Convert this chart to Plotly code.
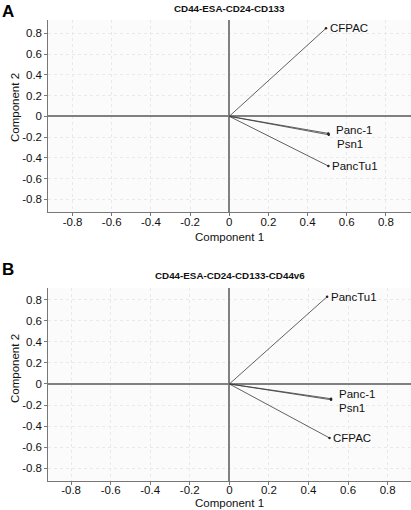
import plotly.graph_objects as go

# Panel A data
labels_a = ["CFPAC", "Panc-1", "Psn1", "PancTu1"]
comp1_a = [0.494, 0.506, 0.508, 0.506]
comp2_a = [0.848, -0.165, -0.178, -0.479]

# Panel B data
labels_b = ["PancTu1", "Panc-1", "Psn1", "CFPAC"]
comp1_b = [0.494, 0.514, 0.514, 0.506]
comp2_b = [0.828, -0.140, -0.150, -0.512]

tick_vals = [-0.8, -0.6, -0.4, -0.2, 0, 0.2, 0.4, 0.6, 0.8]
tick_text = ["-0.8", "-0.6", "-0.4", "-0.2", "0", "0.2", "0.4", "0.6", "0.8"]

titles = ["CD44-ESA-CD24-CD133", "CD44-ESA-CD24-CD133-CD44v6"]
x_title = "Component 1"
y_title = "Component 2"

W, H = 411, 510
fig = go.Figure()

def add_vectors(xs, ys, xa, ya):
    for x, y in zip(xs, ys):
        fig.add_trace(go.Scatter(
            x=[0, x], y=[0, y], mode="lines",
            line=dict(color="#3a3a3a", width=0.8),
            xaxis=xa, yaxis=ya, showlegend=False, hoverinfo="skip"))
    fig.add_trace(go.Scatter(
        x=xs, y=ys, mode="markers",
        marker=dict(color="#222222", size=2.5),
        xaxis=xa, yaxis=ya, showlegend=False))

add_vectors(comp1_a, comp2_a, "x", "y")
add_vectors(comp1_b, comp2_b, "x2", "y2")

font_fam = "Liberation Sans, Arial, sans-serif"

axis_common = dict(
    tickmode="array", tickvals=tick_vals, ticktext=tick_text,
    showgrid=True, gridcolor="#e9e9e9", griddash="dot", gridwidth=1,
    zeroline=True, zerolinecolor="#808080", zerolinewidth=1.5,
    showline=True, linecolor="#777777", linewidth=1,
    ticks="outside", ticklen=3, tickcolor="#777777",
    tickfont=dict(family=font_fam, size=11.5, color="#111"),
    mirror=False, automargin=False,
)

def px_x(p):
    return p / W

def px_y(p):
    return 1 - p / H

fig.update_layout(
    width=W, height=H,
    margin=dict(l=0, r=0, t=0, b=0),
    paper_bgcolor="white", plot_bgcolor="#fbfbfb",
    font=dict(family=font_fam, color="#111"),
    xaxis=dict(domain=[px_x(48.3), 1.0], range=[-0.924, 0.928], anchor="y",
               ticklabelstandoff=-4, **axis_common),
    yaxis=dict(domain=[px_y(212.3), px_y(20)], range=[-0.925, 0.928], anchor="x", **axis_common),
    xaxis2=dict(domain=[px_x(48.3), 1.0], range=[-0.915, 0.918], anchor="y2",
                ticklabelstandoff=-4, **axis_common),
    yaxis2=dict(domain=[px_y(480.5), px_y(288.3)], range=[-0.916, 0.908], anchor="x2", **axis_common),
)

annotations = []
lab_font = dict(size=11.5, family=font_fam, color="#111")
# point labels
shifts_a = {"CFPAC": (2, 0), "Panc-1": (6, 3), "Psn1": (6, -9), "PancTu1": (2, 0)}
for lab, x, y in zip(labels_a, comp1_a, comp2_a):
    dx, dy = shifts_a[lab]
    annotations.append(dict(x=x, y=y, xref="x", yref="y", text=lab, showarrow=False,
                            xanchor="left", yanchor="middle", xshift=dx, yshift=dy,
                            font=lab_font))
shifts_b = {"PancTu1": (2, 0), "Panc-1": (6, 5), "Psn1": (6, -8), "CFPAC": (2, 0)}
for lab, x, y in zip(labels_b, comp1_b, comp2_b):
    dx, dy = shifts_b[lab]
    annotations.append(dict(x=x, y=y, xref="x2", yref="y2", text=lab, showarrow=False,
                            xanchor="left", yanchor="middle", xshift=dx, yshift=dy,
                            font=lab_font))

# panel titles
title_font = dict(size=9.8, family=font_fam, color="#111")
annotations.append(dict(x=px_x(229.6), y=px_y(8.5), xref="paper", yref="paper",
                        text="<b>" + titles[0] + "</b>", showarrow=False,
                        xanchor="center", yanchor="middle", font=title_font))
annotations.append(dict(x=px_x(229.6), y=px_y(275), xref="paper", yref="paper",
                        text="<b>" + titles[1] + "</b>", showarrow=False,
                        xanchor="center", yanchor="middle", font=title_font))
# axis titles
ax_font = dict(size=11.5, family=font_fam, color="#111")
for yc in (237, 503):
    annotations.append(dict(x=px_x(229.3), y=px_y(yc), xref="paper", yref="paper",
                            text=x_title, showarrow=False, xanchor="center",
                            yanchor="middle", font=ax_font))
for yc in (108, 369):
    annotations.append(dict(x=px_x(15), y=px_y(yc), xref="paper", yref="paper",
                            text=y_title, showarrow=False, xanchor="center",
                            yanchor="middle", textangle=-90, font=ax_font))
# panel letters
annotations.append(dict(x=0, y=px_y(0), xref="paper", yref="paper", text="<b>A</b>",
                        showarrow=False, xanchor="left", yanchor="top",
                        font=dict(size=17, family=font_fam, color="#000")))
annotations.append(dict(x=0, y=px_y(258), xref="paper", yref="paper", text="<b>B</b>",
                        showarrow=False, xanchor="left", yanchor="top",
                        font=dict(size=17, family=font_fam, color="#000")))

fig.update_layout(annotations=annotations)
fig.write_html("out.html", config={"displayModeBar": False},
               post_script="document.body.style.margin='0';document.body.style.overflow='hidden';")
